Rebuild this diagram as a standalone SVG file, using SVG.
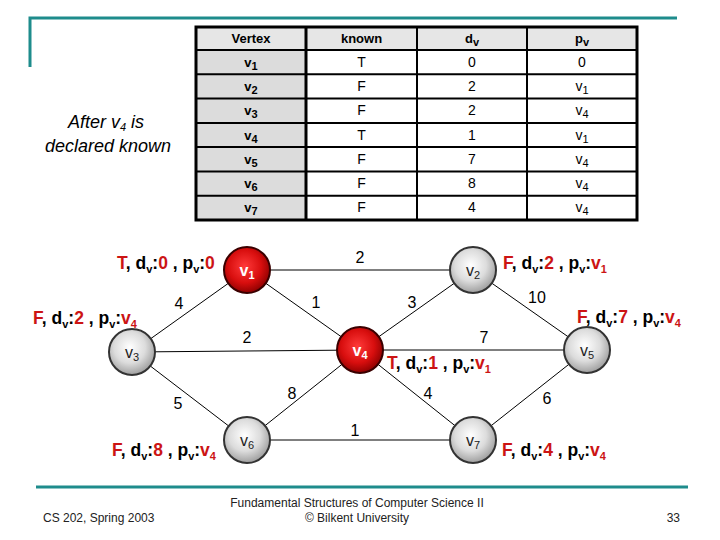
<svg xmlns="http://www.w3.org/2000/svg" width="720" height="540" viewBox="0 0 720 540">
<defs>
<radialGradient id="gRed" cx="45%" cy="42%" r="60%">
<stop offset="0" stop-color="#ff3a3a"/>
<stop offset="0.6" stop-color="#d80e0e"/>
<stop offset="1" stop-color="#8a0000"/>
</radialGradient>
<radialGradient id="gGray" cx="45%" cy="40%" r="62%">
<stop offset="0" stop-color="#ffffff"/>
<stop offset="0.55" stop-color="#dcdcdc"/>
<stop offset="1" stop-color="#9a9a9a"/>
</radialGradient>
</defs>
<style>
.teal{stroke:#1e8c8c;stroke-width:3;fill:none}
.tt{font-family:"Liberation Sans",Arial,sans-serif;font-size:14px;text-anchor:middle;fill:#000}
.tb{font-weight:bold;font-size:13px}
.grid{stroke:#000;stroke-width:2;fill:none}
.edge{stroke:#000;stroke-width:1;fill:none}
.w{font-family:"Liberation Sans",Arial,sans-serif;font-size:16px;text-anchor:middle;fill:#000}
.lab{font-family:"Liberation Sans",Arial,sans-serif;font-size:17.5px;font-weight:bold;fill:#000}
.r{fill:#cc1414}
.s{font-size:11px}
.nr{fill:url(#gRed);stroke:#3a0000;stroke-width:2}
.ng{fill:url(#gGray);stroke:#333;stroke-width:2}
.nl{font-family:"Liberation Sans",Arial,sans-serif;font-size:16px;text-anchor:middle}
.foot{font-family:"Liberation Sans",Arial,sans-serif;font-size:12px;fill:#222}
.note{font-family:"Liberation Sans",Arial,sans-serif;font-size:18px;font-style:italic;text-anchor:middle;fill:#000}
</style>
<rect width="720" height="540" fill="#fff"/>
<path class="teal" d="M30,67 V18 H677"/>
<line class="teal" x1="36" y1="487" x2="688" y2="487"/>

<g id="table">
<rect x="196" y="27" width="441" height="23" fill="#e6e6e6"/>
<rect x="196" y="50" width="110" height="170" fill="#dcdcdc"/>
<rect x="306" y="50" width="331" height="170" fill="#fff"/>
<g class="grid">
<line x1="196" y1="50" x2="637" y2="50"/>
<line x1="196" y1="74.3" x2="637" y2="74.3"/>
<line x1="196" y1="98.6" x2="637" y2="98.6"/>
<line x1="196" y1="122.9" x2="637" y2="122.9"/>
<line x1="196" y1="147.1" x2="637" y2="147.1"/>
<line x1="196" y1="171.4" x2="637" y2="171.4"/>
<line x1="196" y1="195.7" x2="637" y2="195.7"/>
<line x1="306" y1="27" x2="306" y2="220" stroke-width="3"/>
<line x1="417" y1="27" x2="417" y2="220"/>
<line x1="527" y1="27" x2="527" y2="220"/>
<rect x="196" y="27" width="441" height="193" stroke-width="3"/>
</g>
<text class="tt tb" x="251" y="43">Vertex</text>
<text class="tt tb" x="361.5" y="43">known</text>
<text class="tt tb" x="472" y="43">d<tspan class="s" dy="3">v</tspan></text>
<text class="tt tb" x="582" y="43">p<tspan class="s" dy="3">v</tspan></text>

<text class="tt tb" x="251" y="67">v<tspan class="s" dy="3">1</tspan></text>
<text class="tt" x="361.5" y="67">T</text>
<text class="tt" x="472" y="67">0</text>
<text class="tt" x="582" y="67">0</text>

<text class="tt tb" x="251" y="91">v<tspan class="s" dy="3">2</tspan></text>
<text class="tt" x="361.5" y="91">F</text>
<text class="tt" x="472" y="91">2</text>
<text class="tt" x="582" y="91">v<tspan class="s" dy="3">1</tspan></text>

<text class="tt tb" x="251" y="115.3">v<tspan class="s" dy="3">3</tspan></text>
<text class="tt" x="361.5" y="115.3">F</text>
<text class="tt" x="472" y="115.3">2</text>
<text class="tt" x="582" y="115.3">v<tspan class="s" dy="3">4</tspan></text>

<text class="tt tb" x="251" y="139.5">v<tspan class="s" dy="3">4</tspan></text>
<text class="tt" x="361.5" y="139.5">T</text>
<text class="tt" x="472" y="139.5">1</text>
<text class="tt" x="582" y="139.5">v<tspan class="s" dy="3">1</tspan></text>

<text class="tt tb" x="251" y="163.8">v<tspan class="s" dy="3">5</tspan></text>
<text class="tt" x="361.5" y="163.8">F</text>
<text class="tt" x="472" y="163.8">7</text>
<text class="tt" x="582" y="163.8">v<tspan class="s" dy="3">4</tspan></text>

<text class="tt tb" x="251" y="188.1">v<tspan class="s" dy="3">6</tspan></text>
<text class="tt" x="361.5" y="188.1">F</text>
<text class="tt" x="472" y="188.1">8</text>
<text class="tt" x="582" y="188.1">v<tspan class="s" dy="3">4</tspan></text>

<text class="tt tb" x="251" y="212.4">v<tspan class="s" dy="3">7</tspan></text>
<text class="tt" x="361.5" y="212.4">F</text>
<text class="tt" x="472" y="212.4">4</text>
<text class="tt" x="582" y="212.4">v<tspan class="s" dy="3">4</tspan></text>
</g>

<g id="note">
<text class="note" x="106" y="128">After v<tspan font-size="11" dy="3">4</tspan><tspan dy="-3"> is</tspan></text>
<text class="note" x="108" y="152">declared known</text>
</g>

<g id="connectors">
<line class="edge" x1="247" y1="270" x2="473" y2="270"/>
<line class="edge" x1="247" y1="270" x2="360" y2="350"/>
<line class="edge" x1="247" y1="270" x2="132" y2="352"/>
<line class="edge" x1="473" y1="270" x2="360" y2="350"/>
<line class="edge" x1="473" y1="270" x2="587" y2="350"/>
<line class="edge" x1="132" y1="352" x2="360" y2="350"/>
<line class="edge" x1="360" y1="350" x2="587" y2="350"/>
<line class="edge" x1="132" y1="352" x2="247" y2="440"/>
<line class="edge" x1="360" y1="350" x2="247" y2="440"/>
<line class="edge" x1="360" y1="350" x2="473" y2="440"/>
<line class="edge" x1="587" y1="350" x2="473" y2="440"/>
<line class="edge" x1="247" y1="440" x2="473" y2="440"/>
<text class="w" x="360" y="263">2</text>
<text class="w" x="316" y="308">1</text>
<text class="w" x="179" y="309">4</text>
<text class="w" x="412" y="308">3</text>
<text class="w" x="537" y="303">10</text>
<text class="w" x="247" y="343">2</text>
<text class="w" x="484" y="343">7</text>
<text class="w" x="178" y="409">5</text>
<text class="w" x="292" y="399">8</text>
<text class="w" x="428" y="399">4</text>
<text class="w" x="547" y="404">6</text>
<text class="w" x="355" y="436">1</text>
</g>

<g id="v1">
<circle class="nr" cx="247" cy="270" r="23"/>
<text class="nl" x="247" y="276" fill="#fff" font-weight="bold">v<tspan class="s" dy="3">1</tspan></text>
</g>
<g id="v2">
<circle class="ng" cx="473" cy="270" r="23"/>
<text class="nl" x="473" y="276" fill="#222">v<tspan class="s" dy="3">2</tspan></text>
</g>
<g id="v3">
<circle class="ng" cx="132" cy="352" r="23"/>
<text class="nl" x="132" y="358" fill="#222">v<tspan class="s" dy="3">3</tspan></text>
</g>
<g id="v4">
<circle class="nr" cx="360" cy="350" r="23"/>
<text class="nl" x="360" y="356" fill="#fff" font-weight="bold">v<tspan class="s" dy="3">4</tspan></text>
</g>
<g id="v5">
<circle class="ng" cx="587" cy="350" r="23"/>
<text class="nl" x="587" y="356" fill="#222">v<tspan class="s" dy="3">5</tspan></text>
</g>
<g id="v6">
<circle class="ng" cx="247" cy="440" r="23"/>
<text class="nl" x="247" y="446" fill="#222">v<tspan class="s" dy="3">6</tspan></text>
</g>
<g id="v7">
<circle class="ng" cx="473" cy="440" r="23"/>
<text class="nl" x="473" y="446" fill="#222">v<tspan class="s" dy="3">7</tspan></text>
</g>

<g id="labels">
<text class="lab" x="117" y="269"><tspan class="r">T</tspan>, d<tspan class="s" dy="4">v</tspan><tspan dy="-4">:</tspan><tspan class="r">0</tspan> , p<tspan class="s" dy="4">v</tspan><tspan dy="-4">:</tspan><tspan class="r">0</tspan></text>
<text class="lab" x="503" y="269"><tspan class="r">F</tspan>, d<tspan class="s" dy="4">v</tspan><tspan dy="-4">:</tspan><tspan class="r">2</tspan> , p<tspan class="s" dy="4">v</tspan><tspan dy="-4">:</tspan><tspan class="r">v</tspan><tspan class="r s" dy="4">1</tspan></text>
<text class="lab" x="33" y="324"><tspan class="r">F</tspan>, d<tspan class="s" dy="4">v</tspan><tspan dy="-4">:</tspan><tspan class="r">2</tspan> , p<tspan class="s" dy="4">v</tspan><tspan dy="-4">:</tspan><tspan class="r">v</tspan><tspan class="r s" dy="4">4</tspan></text>
<text class="lab" x="577" y="323"><tspan class="r">F</tspan>, d<tspan class="s" dy="4">v</tspan><tspan dy="-4">:</tspan><tspan class="r">7</tspan> , p<tspan class="s" dy="4">v</tspan><tspan dy="-4">:</tspan><tspan class="r">v</tspan><tspan class="r s" dy="4">4</tspan></text>
<text class="lab" x="387" y="369"><tspan class="r">T</tspan>, d<tspan class="s" dy="4">v</tspan><tspan dy="-4">:</tspan><tspan class="r">1</tspan> , p<tspan class="s" dy="4">v</tspan><tspan dy="-4">:</tspan><tspan class="r">v</tspan><tspan class="r s" dy="4">1</tspan></text>
<text class="lab" x="112" y="456"><tspan class="r">F</tspan>, d<tspan class="s" dy="4">v</tspan><tspan dy="-4">:</tspan><tspan class="r">8</tspan> , p<tspan class="s" dy="4">v</tspan><tspan dy="-4">:</tspan><tspan class="r">v</tspan><tspan class="r s" dy="4">4</tspan></text>
<text class="lab" x="502" y="456"><tspan class="r">F</tspan>, d<tspan class="s" dy="4">v</tspan><tspan dy="-4">:</tspan><tspan class="r">4</tspan> , p<tspan class="s" dy="4">v</tspan><tspan dy="-4">:</tspan><tspan class="r">v</tspan><tspan class="r s" dy="4">4</tspan></text>
</g>

<g id="footer">
<text class="foot" x="43" y="522">CS 202, Spring 2003</text>
<text class="foot" x="357" y="507" text-anchor="middle">Fundamental Structures of Computer Science II</text>
<text class="foot" x="357" y="522" text-anchor="middle">© Bilkent University</text>
<text class="foot" x="680" y="522" text-anchor="end">33</text>
</g>
</svg>
